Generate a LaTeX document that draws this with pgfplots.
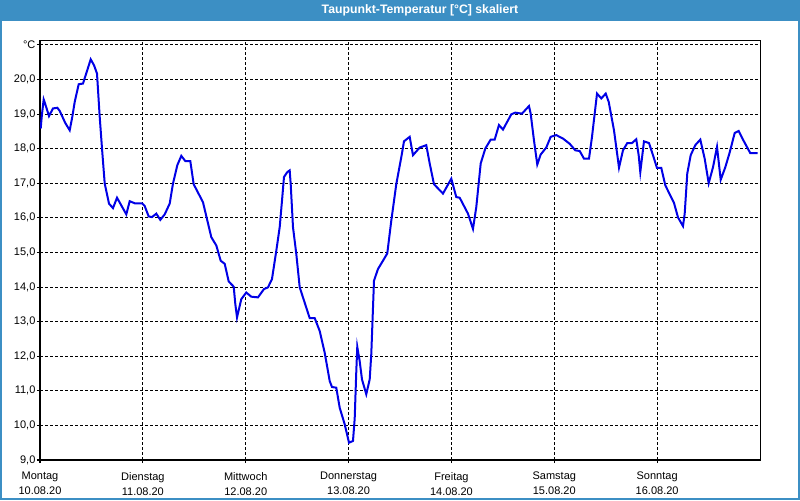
\documentclass[border=0pt]{standalone}
\usepackage{fontspec}
\setmainfont{Liberation Sans}
\usepackage{pgfplots}
\pgfplotsset{compat=1.18}
\definecolor{winblue}{HTML}{3C8FC4}
\definecolor{curveblue}{HTML}{0000E6}
\begin{document}
\begin{tikzpicture}[x=0.75pt,y=0.75pt]
\useasboundingbox (0,0) rectangle (800,500);
\fill[white] (0,0) rectangle (800,500);
\fill[winblue] (0,479) rectangle (800,500);
\draw[winblue, line width=1.5pt] (1,1) rectangle (799,480);
\node[white, font=\bfseries\fontsize{9.2}{11}\selectfont] at (420,489.5) {Taupunkt-Temperatur [°C] skaliert};
\begin{axis}[
  at={(30pt,30pt)}, anchor=south west,
  scale only axis, width=540pt, height=314.25pt,
  xmin=0, xmax=168, ymin=9, ymax=21.11,
  xtick={0,24,...,144},
  xticklabels={{Montag\\10.08.20},{Dienstag\\11.08.20},{Mittwoch\\12.08.20},{Donnerstag\\13.08.20},{Freitag\\14.08.20},{Samstag\\15.08.20},{Sonntag\\16.08.20}},
  xticklabel style={align=center, font=\fontsize{8.25}{11.25}\selectfont, yshift=-3.25pt},
  ytick={9,10,...,21},
  yticklabels={{9,0},{10,0},{11,0},{12,0},{13,0},{14,0},{15,0},{16,0},{17,0},{18,0},{19,0},{20,0},{°C}},
  yticklabel style={font=\fontsize{8.25}{10}\selectfont, inner xsep=1pt},
  xtick pos=left, ytick pos=left,
  tick align=outside, major tick length=2.25pt,
  tick style={black, line width=0.75pt},
  grid=major,
  major grid style={black, line width=0.75pt, dash pattern=on 2.25pt off 1.5pt},
  axis line style={black, line width=0.75pt},
]
\addplot[curveblue, line width=1.5pt] coordinates {
(0.16,18.58) (0.44,18.97) (0.86,19.42) (1.24,19.28) (2.10,18.94) (3.03,19.16) (4.04,19.18) (4.60,19.09)
(5.90,18.74) (6.93,18.53) (7.54,18.92) (8.10,19.35) (9.03,19.86) (10.03,19.88) (11.04,20.27) (11.83,20.58)
(12.60,20.41) (13.30,20.17) (13.93,18.92) (14.47,18.00) (15.10,16.99) (16.10,16.41) (17.03,16.28) (17.97,16.58)
(20.14,16.10) (20.93,16.48) (22.10,16.42) (23.80,16.42) (24.43,16.34) (25.36,16.04) (26.13,16.02) (27.14,16.12)
(28.07,15.94) (29.10,16.10) (30.26,16.41) (31.03,16.99) (32.04,17.52) (32.97,17.79) (33.90,17.64) (35.07,17.64)
(35.86,16.97) (38.03,16.45) (39.97,15.44) (41.14,15.20) (42.16,14.76) (43.10,14.67) (44.03,14.16) (45.20,14.01)
(45.57,13.51) (45.97,13.12) (46.97,13.65) (48.13,13.84) (49.30,13.72) (50.86,13.70) (52.26,13.94) (53.20,13.99)
(54.13,14.23) (55.14,15.05) (55.93,15.73) (56.47,16.50) (56.93,17.18) (57.70,17.32) (58.26,17.37) (58.50,16.97)
(59.03,15.73) (59.80,14.96) (60.60,13.99) (61.36,13.70) (62.93,13.10) (64.10,13.10) (65.26,12.73) (66.43,12.10)
(67.60,11.28) (68.13,11.11) (69.13,11.09) (69.93,10.51) (71.10,10.03) (72.10,9.50) (73.03,9.55) (73.43,10.20)
(73.80,11.56) (74.03,12.27) (74.59,11.86) (75.13,11.33) (76.13,10.90) (76.93,11.33) (77.30,12.06) (77.93,14.18)
(78.86,14.52) (80.03,14.76) (81.03,14.97) (81.96,15.91) (83.13,16.97) (84.46,17.86) (84.93,18.21) (86.26,18.34)
(87.03,17.81) (88.60,18.03) (90.13,18.10) (90.93,17.57) (91.93,16.97) (94.03,16.70) (95.97,17.13) (97.13,16.60)
(97.93,16.58) (99.86,16.12) (101.03,15.68) (101.80,16.31) (102.83,17.57) (103.90,18.00) (105.16,18.26) (106.09,18.26)
(107.09,18.68) (108.03,18.55) (109.96,18.99) (110.90,19.04) (112.46,19.01) (114.10,19.23) (114.49,19.01) (115.26,18.24)
(116.03,17.54) (116.83,17.83) (118.13,18.03) (119.16,18.34) (120.46,18.39) (122.03,18.29) (123.59,18.14) (124.90,17.95)
(125.93,17.93) (126.93,17.71) (128.10,17.71) (128.80,18.34) (129.97,19.59) (130.97,19.45) (132.00,19.59) (132.70,19.35)
(133.93,18.53) (135.10,17.45) (136.03,17.95) (137.03,18.16) (138.13,18.16) (139.13,18.27) (139.69,17.81) (140.07,17.32)
(140.93,18.21) (142.10,18.16) (143.03,17.81) (143.96,17.44) (144.97,17.44) (145.90,16.94) (147.93,16.43) (148.87,16.01)
(150.03,15.76) (150.43,16.12) (151.03,17.28) (151.83,17.81) (152.90,18.10) (154.07,18.26) (155.09,17.71) (156.03,17.00)
(157.03,17.46) (157.97,18.05) (158.83,17.10) (159.90,17.46) (160.93,17.89) (162.09,18.45) (163.03,18.51) (164.03,18.26)
(165.73,17.87) (167.43,17.87)
};
\end{axis}
\end{tikzpicture}
\end{document}
